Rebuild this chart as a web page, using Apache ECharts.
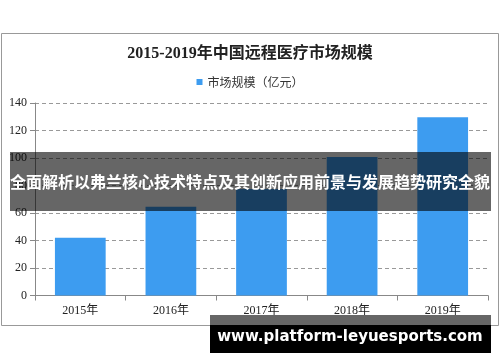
<!DOCTYPE html>
<html><head><meta charset="utf-8">
<script src="https://cdn.jsdelivr.net/npm/echarts@6/dist/echarts.min.js"></script>
<style>html,body{margin:0;padding:0;background:#fff}#c{width:500px;height:362px}</style>
</head><body><div id="c"></div>
<script>
const categories = ['2015年','2016年','2017年','2018年','2019年'];
const marketSize = [42, 64.6, 77.5, 100.8, 129.6];
const yTicks = [0, 20, 40, 60, 80, 100, 120, 140];
const titleText = '2015-2019年中国远程医疗市场规模';
const legendName = '市场规模（亿元）';
const bannerText = '全面解析以弗兰核心技术特点及其创新应用前景与发展趋势研究全貌';
const siteText = 'www.platform-leyuesports.com';

const serif = '"Liberation Serif","DejaVu Serif","Noto Sans CJK SC",serif';
const chart = echarts.init(document.getElementById('c'), null, {renderer:'canvas'});
chart.setOption({
  animation:false,
  backgroundColor:'#fff',
  title:{text:titleText,left:'center',top:41,textStyle:{fontFamily:serif,fontSize:16,fontWeight:'bold',color:'#222'}},
  legend:{data:[legendName],top:71,left:'center',itemWidth:6,itemHeight:6,icon:'rect',itemGap:4,
    textStyle:{fontFamily:'"Noto Sans CJK SC",sans-serif',fontSize:12,color:'#333'}},
  grid:{left:35,right:12,top:103,bottom:66.5,containLabel:false},
  xAxis:{type:'category',data:categories,
    axisLine:{lineStyle:{color:'#888'}},
    axisTick:{show:true,alignWithLabel:false,length:5,lineStyle:{color:'#888'}},
    axisLabel:{fontFamily:serif,fontSize:12,color:'#222',margin:9}},
  yAxis:{type:'value',min:yTicks[0],max:yTicks[yTicks.length-1],interval:20,
    axisLine:{show:true,lineStyle:{color:'#888'}},
    axisTick:{show:true,length:5,lineStyle:{color:'#888'}},
    axisLabel:{fontFamily:serif,fontSize:12,color:'#222',margin:8},
    splitLine:{lineStyle:{type:[4,3],color:'#999'}}},
  series:[{name:legendName,type:'bar',data:marketSize,barWidth:'56%',itemStyle:{color:'#3d9cf0'}}],
  graphic:[
    {type:'rect',shape:{x:1.5,y:33.5,width:497,height:292},style:{fill:'none',stroke:'#999',lineWidth:1},z:1,silent:true},
    {type:'rect',shape:{x:10,y:152,width:481,height:59},style:{fill:'rgba(0,0,0,0.6)'},z:100,silent:true},
    {type:'text',x:250,y:182,style:{text:bannerText,fill:'#fff',font:'bold 16px "Noto Sans CJK SC",sans-serif',align:'center',verticalAlign:'middle'},z:101,silent:true},
    {type:'rect',shape:{x:210,y:315,width:281,height:10},style:{fill:'rgba(0,0,0,0.6)'},z:100,silent:true},
    {type:'rect',shape:{x:210,y:325,width:281,height:28},style:{fill:'#000'},z:100,silent:true},
    {type:'text',x:350,y:337,style:{text:siteText,fill:'#fff',font:'bold 15px "DejaVu Sans",sans-serif',align:'center',verticalAlign:'middle'},z:101,silent:true}
  ]
});
</script></body></html>
